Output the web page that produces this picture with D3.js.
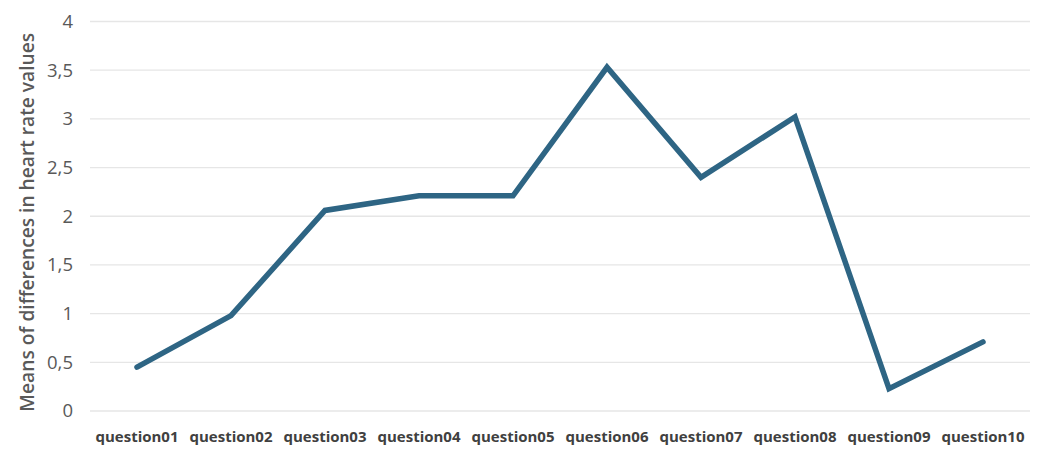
<!DOCTYPE html>
<html><head><meta charset="utf-8">
<script src="https://cdn.jsdelivr.net/npm/d3@7"></script>
<style>body{margin:0;background:#fff}svg{display:block}</style>
</head><body><svg id="c" width="1040" height="450"></svg>
<script>
const categories = ["question01","question02","question03","question04","question05","question06","question07","question08","question09","question10"];
const values = [0.45, 0.98, 2.06, 2.21, 2.21, 3.53, 2.40, 3.02, 0.23, 0.71];
const yTicks = [0, 0.5, 1, 1.5, 2, 2.5, 3, 3.5, 4];
const yTitle = "Means of differences in heart rate values";

const svg = d3.select("#c");
const L = 90, R = 1030, T = 21.5, B = 411;
const x = d3.scaleBand().domain(categories).range([L, R]);
const y = d3.scaleLinear().domain([0, 4]).range([B, T]);
const fmt = d => String(d).replace(".", ",");

svg.append("g").selectAll("line").data(yTicks).join("line")
  .attr("x1", L).attr("x2", R).attr("y1", d => y(d)).attr("y2", d => y(d))
  .attr("stroke", "#e6e6e6").attr("stroke-width", 1.3);

const ya = svg.append("g").attr("transform", `translate(${L},0)`)
  .call(d3.axisLeft(y).tickValues(yTicks).tickFormat(fmt).tickSize(0).tickPadding(17));
ya.select(".domain").remove();
ya.selectAll("text").attr("font-family", "Open Sans, sans-serif").attr("font-size", 18.5).attr("fill", "#595959");

const xa = svg.append("g").attr("transform", `translate(0,${B})`)
  .call(d3.axisBottom(x).tickSize(0).tickPadding(20));
xa.select(".domain").remove();
xa.selectAll("text").attr("font-family", "Open Sans, sans-serif").attr("font-size", 15).attr("font-weight", "bold").attr("fill", "#404040");

svg.append("text").attr("transform", `translate(29,${(T+B)/2 + 6}) rotate(-90)`)
  .attr("text-anchor", "middle").attr("dominant-baseline", "middle")
  .attr("font-family", "Open Sans, sans-serif").attr("font-size", 19.2).attr("font-weight", 600).attr("fill", "#595959")
  .text(yTitle);

const line = d3.line().x((d, i) => x(categories[i]) + x.bandwidth()/2).y(d => y(d));
svg.append("path").datum(values).attr("d", line)
  .attr("fill", "none").attr("stroke", "#2E6584").attr("stroke-width", 5.5)
  .attr("stroke-linejoin", "miter").attr("stroke-linecap", "round");
</script></body></html>
